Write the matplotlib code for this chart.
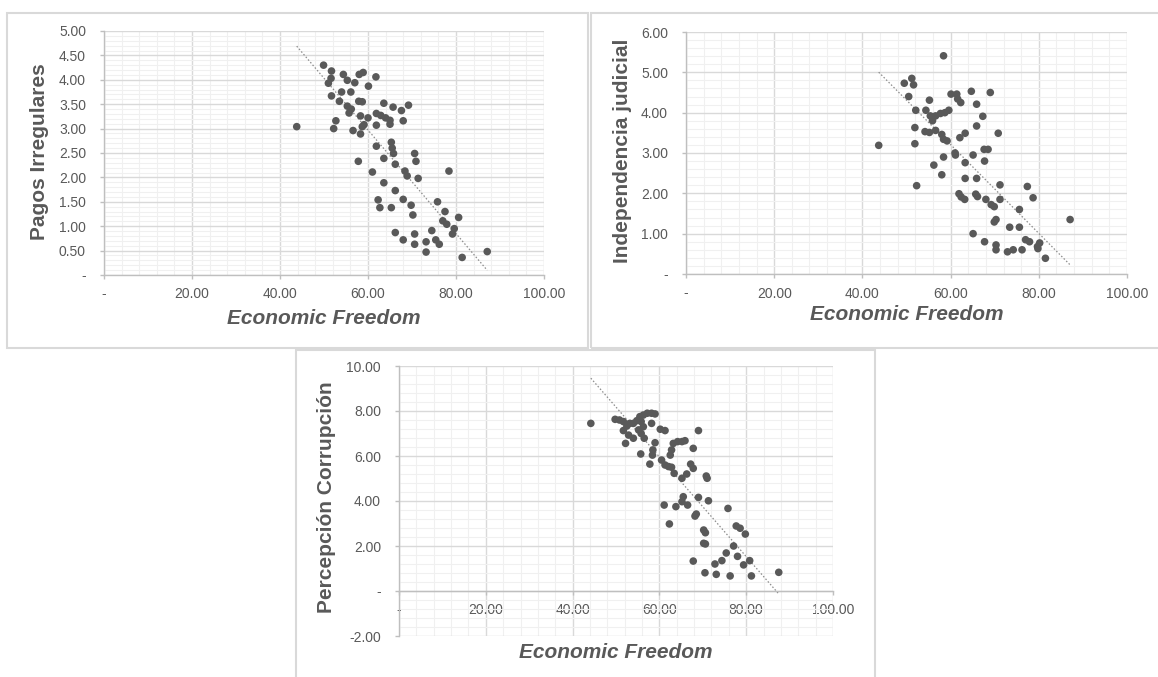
import numpy as np
import matplotlib.pyplot as plt
from matplotlib.ticker import MultipleLocator, FuncFormatter
from matplotlib.patches import Rectangle

plt.rcParams['font.family'] = ['Liberation Sans', 'DejaVu Sans']

# Pagos Irregulares vs Economic Freedom
ef_pagos = [49.9, 51.7, 51.6, 51.0, 54.4, 55.3, 57.0, 58.0, 58.9, 61.8,
            60.1, 54.0, 56.1, 51.7, 53.5, 57.9, 58.7, 55.3, 56.2, 55.7,
            63.6, 65.7, 67.6, 69.2, 61.9, 62.9, 64.0, 65.0, 65.0, 68.0,
            58.3, 60.0, 59.1, 58.7, 52.7, 52.2, 43.8, 56.6, 58.3, 61.9,
            65.3, 65.5, 65.8, 61.9, 63.6, 66.2, 57.8, 70.6, 70.9, 68.4,
            68.9, 71.4, 78.4, 61.0, 63.6, 66.2, 68.0, 69.8, 70.2, 62.3,
            62.7, 65.3, 75.8, 77.5, 77.0, 77.9, 80.6, 79.6, 79.2, 74.5,
            66.2, 68.0, 70.6, 70.6, 73.2, 73.2, 75.4, 76.2, 81.4, 87.1]
pagos = [4.30, 4.18, 4.03, 3.93, 4.11, 3.99, 3.94, 4.11, 4.15, 4.06,
         3.87, 3.75, 3.75, 3.67, 3.56, 3.56, 3.55, 3.46, 3.40, 3.32,
         3.52, 3.44, 3.37, 3.48, 3.31, 3.27, 3.22, 3.17, 3.09, 3.16,
         3.26, 3.22, 3.08, 3.04, 3.16, 3.00, 3.04, 2.96, 2.89, 3.07,
         2.72, 2.60, 2.49, 2.64, 2.39, 2.27, 2.33, 2.49, 2.33, 2.13,
         2.03, 1.98, 2.13, 2.11, 1.89, 1.73, 1.55, 1.43, 1.23, 1.54,
         1.38, 1.38, 1.50, 1.30, 1.11, 1.04, 1.18, 0.95, 0.84, 0.91,
         0.87, 0.72, 0.84, 0.63, 0.68, 0.47, 0.72, 0.63, 0.36, 0.48]

# Independencia judicial vs Economic Freedom
ef_indep = [58.4, 49.5, 51.2, 51.6, 50.5, 55.2, 60.1, 61.4, 61.6, 62.3,
            64.7, 69.0, 65.9, 52.1, 54.4, 55.4, 56.6, 57.7, 58.7, 59.6,
            55.9, 67.3, 65.9, 51.9, 54.2, 55.2, 56.6, 58.0, 58.4, 59.2,
            62.1, 63.3, 70.8, 43.7, 51.9, 61.0, 61.1, 65.1, 67.6, 68.5,
            58.4, 63.3, 67.7, 56.2, 58.0, 63.3, 65.9, 52.3, 71.2, 77.4,
            61.9, 62.4, 63.2, 65.7, 66.1, 68.0, 69.2, 69.9, 71.2, 78.7,
            75.6, 70.3, 69.9, 73.4, 75.6, 87.1, 65.1, 67.7, 70.3, 70.3,
            72.9, 74.2, 76.2, 77.0, 77.9, 79.7, 80.2, 79.8, 81.5]
indep = [5.41, 4.73, 4.85, 4.69, 4.40, 4.31, 4.46, 4.46, 4.34, 4.25,
         4.53, 4.50, 4.21, 4.06, 4.06, 3.92, 3.92, 3.98, 4.00, 4.06,
         3.80, 3.91, 3.67, 3.63, 3.53, 3.51, 3.56, 3.46, 3.34, 3.30,
         3.38, 3.49, 3.49, 3.19, 3.23, 3.00, 2.95, 2.95, 3.09, 3.09,
         2.90, 2.76, 2.80, 2.70, 2.46, 2.37, 2.37, 2.19, 2.21, 2.17,
         1.99, 1.91, 1.85, 1.98, 1.92, 1.85, 1.72, 1.67, 1.85, 1.89,
         1.60, 1.35, 1.29, 1.16, 1.16, 1.35, 1.00, 0.80, 0.72, 0.60,
         0.55, 0.60, 0.60, 0.85, 0.80, 0.68, 0.77, 0.63, 0.39]

# Percepcion Corrupcion vs Economic Freedom
ef_corr = [44.2, 49.8, 50.8, 51.7, 51.7, 52.5, 53.2, 54.0, 54.8, 55.5,
           56.3, 57.2, 58.2, 59.0, 55.8, 56.3, 55.2, 52.9, 52.2, 54.0,
           55.8, 56.5, 58.2, 60.2, 61.3, 59.0, 58.5, 58.4, 55.7, 57.8,
           63.2, 64.2, 65.2, 65.9, 62.8, 62.5, 69.0, 67.8, 60.5, 61.3,
           62.1, 62.8, 63.4, 65.2, 66.3, 67.2, 67.8, 70.8, 71.0, 61.1,
           63.8, 65.5, 65.2, 66.5, 69.0, 71.3, 68.5, 68.2, 62.3, 75.8,
           77.7, 78.6, 79.8, 70.2, 70.6, 70.2, 70.6, 77.1, 75.4, 78.0,
           67.8, 72.8, 74.4, 79.4, 80.8, 70.5, 73.1, 76.3, 81.2, 87.5]
corr = [7.45, 7.63, 7.60, 7.53, 7.13, 7.33, 7.45, 7.45, 7.57, 7.75,
        7.82, 7.90, 7.90, 7.87, 7.53, 7.30, 7.16, 6.93, 6.56, 6.79,
        7.00, 6.79, 7.45, 7.19, 7.13, 6.59, 6.27, 6.04, 6.09, 5.64,
        6.56, 6.64, 6.64, 6.68, 6.27, 6.04, 7.13, 6.34, 5.82, 5.60,
        5.53, 5.50, 5.23, 5.01, 5.20, 5.64, 5.45, 5.11, 5.01, 3.82,
        3.75, 4.19, 3.97, 3.82, 4.16, 4.01, 3.42, 3.33, 2.98, 3.67,
        2.89, 2.79, 2.53, 2.71, 2.59, 2.12, 2.09, 2.00, 1.69, 1.54,
        1.33, 1.20, 1.35, 1.16, 1.35, 0.81, 0.74, 0.67, 0.67, 0.83]

W, H = 1158, 677
TXT = '#595959'


def px_rect(l, t, r, b):
    return [l / W, 1 - b / H, (r - l) / W, (b - t) / H]


def fmt(v, pos):
    if abs(v) < 1e-9:
        return '-'
    return f'{v:.2f}'


def panel(fig, box, axpx, x, y, ylabel, ylim, ymaj, ymin, ylab_xy, xlab_xy,
          xaxis_at_zero=False):
    fig.add_artist(Rectangle((box[0] / W, 1 - box[3] / H),
                             (box[2] - box[0]) / W, (box[3] - box[1]) / H,
                             transform=fig.transFigure, fill=False,
                             edgecolor='#d9d9d9', lw=1.5))
    ax = fig.add_axes(px_rect(*axpx))
    l, t, r, b = axpx
    ax.set_xlim(0, 100)
    ax.set_ylim(*ylim)
    ax.xaxis.set_major_locator(MultipleLocator(20))
    ax.xaxis.set_minor_locator(MultipleLocator(4))
    ax.yaxis.set_major_locator(MultipleLocator(ymaj))
    ax.yaxis.set_minor_locator(MultipleLocator(ymin))
    ax.xaxis.set_major_formatter(FuncFormatter(fmt))
    ax.yaxis.set_major_formatter(FuncFormatter(fmt))
    ax.grid(which='minor', color='#f0f0f0', lw=0.8, zorder=0)
    ax.grid(which='major', color='#d9d9d9', lw=1.0, zorder=0)
    ax.set_axisbelow(True)
    for s in ['top', 'right']:
        ax.spines[s].set_visible(False)
    for s in ['left', 'bottom']:
        ax.spines[s].set_color('#bfbfbf')
        ax.spines[s].set_linewidth(1.0)
    if xaxis_at_zero:
        ax.spines['bottom'].set_position(('data', 0))
    ax.tick_params(which='major', direction='out', length=3, width=1,
                   color='#bfbfbf', labelcolor=TXT, labelsize=10)
    ax.tick_params(axis='y', pad=10)
    ax.tick_params(axis='x', pad=6)
    ax.tick_params(which='minor', length=0)

    ax.scatter(x, y, s=30, color='#595959', edgecolors='none', zorder=3,
               clip_on=False)
    k, c = np.polyfit(x, y, 1)
    xs = np.array([min(x), max(x)])
    ax.plot(xs, k * xs + c, color='#8c8c8c', lw=0.9, ls=(0, (1.2, 1.6)),
            zorder=2)

    ax.set_ylabel(ylabel, fontsize=15, fontweight='bold', color=TXT,
                  va='center')
    ax.yaxis.set_label_coords((ylab_xy[0] - l) / (r - l),
                              (b - ylab_xy[1]) / (b - t))
    ax.set_xlabel('Economic Freedom', fontsize=15, fontweight='bold',
                  fontstyle='italic', color=TXT, va='center')
    ax.xaxis.set_label_coords((xlab_xy[0] - l) / (r - l),
                              (b - xlab_xy[1]) / (b - t))
    return ax


fig = plt.figure(figsize=(W / 100, H / 100), dpi=100)

panel(fig, (7, 13, 588, 348), (104, 31, 544, 275), ef_pagos, pagos,
      'Pagos Irregulares', (0, 5), 0.5, 0.1, (40, 152), (324, 318))
panel(fig, (591, 13, 1170, 348), (686, 32, 1127, 274), ef_indep, indep,
      'Independencia judicial', (0, 6), 1, 0.2, (622, 151), (907, 315))
panel(fig, (296, 350, 875, 690), (399, 366, 833, 636), ef_corr, corr,
      'Percepción Corrupción', (-2, 10), 2, 0.4, (326, 497), (616, 652),
      xaxis_at_zero=True)

fig.savefig('out.png', dpi=100, facecolor='white')
